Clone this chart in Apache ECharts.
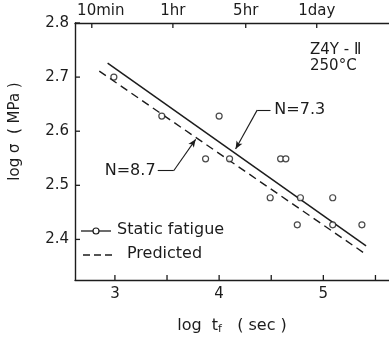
<!DOCTYPE html>
<html><head><meta charset="utf-8">
<script src="https://cdn.jsdelivr.net/npm/echarts@6/dist/echarts.min.js"></script>
<style>html,body{margin:0;padding:0;background:#fff}#c{width:389px;height:340px}</style>
</head><body><div id="c"></div>
<script>
// ---- data ----
var staticX = [2.99, 3.45, 4.00, 3.87, 4.10, 4.59, 4.64, 4.49, 4.78, 5.09, 4.75, 5.09, 5.37];
var staticY = [2.700, 2.628, 2.628, 2.549, 2.549, 2.549, 2.549, 2.477, 2.477, 2.477, 2.427, 2.427, 2.427];
var fitX = [2.93, 5.41];          // N = 7.3 (solid)
var fitY = [2.726, 2.388];
var predX = [2.85, 5.42];         // N = 8.7 (dashed)
var predY = [2.711, 2.371];
var xTicks = [3, 4, 5];
var xMinorTicks = [3, 3.5, 4, 4.5, 5, 5.5];
var yTicks = [2.4, 2.5, 2.6, 2.7, 2.8];
var timeLabels = ['10min', '1hr', '5hr', '1day'];
var timeSeconds = [600, 3600, 18000, 86400];
var timeTicks = timeSeconds.map(function (s) { return Math.log10(s); });

var X_MIN = 2.617, X_MAX = 5.63, Y_MIN = 2.325, Y_MAX = 2.8;
var FONT = 'DejaVu Sans';
var INK = '#1c1c1c';
var chart = echarts.init(document.getElementById('c'), null, {renderer: 'canvas'});
function pairs(xs, ys) { return xs.map(function (x, i) { return [x, ys[i]]; }); }

var baseGraphic = [
  {id: 'z4y', type: 'text', left: 310, top: 43, style: {text: 'Z4Y - Ⅱ', font: '15px "DejaVu Sans"', fill: INK}},
  {id: 'temp', type: 'text', left: 310, top: 59, style: {text: '250°C', font: '15px "DejaVu Sans"', fill: INK}},
  // legend
  {id: 'lg1', type: 'line', shape: {x1: 81, y1: 231, x2: 111, y2: 231}, style: {stroke: INK, lineWidth: 1.3}},
  {id: 'lg1c', type: 'circle', shape: {cx: 96, cy: 231, r: 3}, style: {fill: '#fff', stroke: INK, lineWidth: 1.2}, z: 10},
  {id: 'lg1t', type: 'text', left: 117, top: 222, style: {text: 'Static fatigue', font: '16px "DejaVu Sans"', fill: INK}},
  {id: 'lg2', type: 'line', shape: {x1: 83, y1: 255, x2: 113, y2: 255}, style: {stroke: INK, lineWidth: 1.3, lineDash: [7, 4]}},
  {id: 'lg2t', type: 'text', left: 127, top: 246, style: {text: 'Predicted', font: '16px "DejaVu Sans"', fill: INK}}
];

var option = {
  animation: false,
  backgroundColor: '#fff',
  textStyle: {fontFamily: FONT, color: INK},
  grid: {left: 74, top: 23, right: 0, bottom: 58},
  xAxis: [{
    type: 'value', min: X_MIN, max: X_MAX, position: 'bottom',
    axisLine: {show: true, lineStyle: {color: INK, width: 1.4}},
    axisTick: {show: false},
    axisLabel: {customValues: xTicks, fontSize: 15, color: INK, margin: 7, fontFamily: FONT},
    splitLine: {show: false},
    name: 'log  t{sub|f}   ( sec )', nameLocation: 'middle', nameGap: 36,
    nameTextStyle: {fontSize: 16, color: INK, fontFamily: FONT,
      rich: {sub: {fontSize: 11, padding: [8, 0, 0, 0], fontFamily: FONT, color: INK}}}
  }, {
    type: 'value', min: X_MIN, max: X_MAX, position: 'top',
    axisLine: {show: true, onZero: false, lineStyle: {color: INK, width: 1.4}},
    axisTick: {show: false},
    axisLabel: {customValues: timeTicks, fontSize: 15, color: INK, margin: 4, fontFamily: FONT,
      formatter: function (v) {
        for (var i = 0; i < timeTicks.length; i++) {
          if (Math.abs(v - timeTicks[i]) < 1e-6) return i === 0 ? '{a|' + timeLabels[i] + '}' : timeLabels[i];
        }
        return '';
      },
      rich: {a: {fontSize: 15, color: INK, fontFamily: FONT, padding: [0, 0, 0, 18]}}},
    splitLine: {show: false}
  }],
  yAxis: {
    type: 'value', min: Y_MIN, max: Y_MAX,
    axisLine: {show: true, lineStyle: {color: INK, width: 1.4}},
    axisTick: {show: false},
    axisLabel: {customValues: yTicks, fontSize: 15, color: INK, margin: 6, fontFamily: FONT,
      formatter: function (v) { return v.toFixed(1); }},
    splitLine: {show: false},
    name: 'log σ  ( MPa )', nameLocation: 'middle', nameGap: 52,
    nameTextStyle: {fontSize: 15, color: INK, fontFamily: FONT, padding: [0, 0, 0, 40]}
  },
  series: [{
    name: 'N=7.3', type: 'line', data: pairs(fitX, fitY), showSymbol: false, symbol: 'none',
    lineStyle: {color: INK, width: 1.5, type: 'solid'}, z: 2,
    markLine: {
      silent: true, symbol: ['none', 'none'], label: {show: false},
      lineStyle: {color: INK, width: 1.1, type: 'solid'},
      data: [
        [{coord: [4.365, 2.639]}, {coord: [4.493, 2.639]}],
        [{coord: [4.365, 2.639], symbol: 'none'}, {coord: [4.158, 2.567], symbol: 'arrow', symbolSize: [5, 8]}]
      ]
    },
    markPoint: {
      symbol: 'circle', symbolSize: 0,
      data: [{coord: [4.53, 2.639], label: {show: true, position: 'right', distance: 0, formatter: 'N=7.3', fontSize: 16, color: INK, fontFamily: FONT}}]
    }
  }, {
    name: 'Predicted', type: 'line', data: pairs(predX, predY), showSymbol: false, symbol: 'none',
    lineStyle: {color: INK, width: 1.4, type: [8, 5]}, z: 2,
    markLine: {
      silent: true, symbol: ['none', 'none'], label: {show: false},
      lineStyle: {color: INK, width: 1.1, type: 'solid'},
      data: [
        [{coord: [3.411, 2.527]}, {coord: [3.564, 2.527]}],
        [{coord: [3.564, 2.527], symbol: 'none'}, {coord: [3.775, 2.585], symbol: 'arrow', symbolSize: [5, 8]}]
      ]
    },
    markPoint: {
      symbol: 'circle', symbolSize: 0,
      data: [{coord: [3.39, 2.527], label: {show: true, position: 'left', distance: 0, formatter: 'N=8.7', fontSize: 16, color: INK, fontFamily: FONT}}]
    }
  }, {
    name: 'Static fatigue', type: 'scatter', data: pairs(staticX, staticY),
    symbol: 'circle', symbolSize: 6,
    itemStyle: {color: '#fff', borderColor: INK, borderWidth: 1.2}, z: 5
  }],
  graphic: baseGraphic
};
chart.setOption(option);

// tick marks drawn inward, positioned through the chart's own axis scales
var tickLen = 5, tickGraphic = [];
var yBottom = chart.convertToPixel({yAxisIndex: 0}, Y_MIN);
var yTop = chart.convertToPixel({yAxisIndex: 0}, Y_MAX);
var xLeft = chart.convertToPixel({xAxisIndex: 0}, X_MIN);
xMinorTicks.forEach(function (v, i) {
  var px = chart.convertToPixel({xAxisIndex: 0}, v);
  tickGraphic.push({id: 'bt' + i, type: 'line', shape: {x1: px, y1: yBottom, x2: px, y2: yBottom - tickLen}, style: {stroke: INK, lineWidth: 1.3}});
});
timeTicks.forEach(function (v, i) {
  var px = chart.convertToPixel({xAxisIndex: 1}, v);
  tickGraphic.push({id: 'tt' + i, type: 'line', shape: {x1: px, y1: yTop, x2: px, y2: yTop + tickLen}, style: {stroke: INK, lineWidth: 1.3}});
});
yTicks.forEach(function (v, i) {
  var py = chart.convertToPixel({yAxisIndex: 0}, v);
  tickGraphic.push({id: 'yt' + i, type: 'line', shape: {x1: xLeft, y1: py, x2: xLeft + tickLen, y2: py}, style: {stroke: INK, lineWidth: 1.3}});
});
chart.setOption({graphic: baseGraphic.concat(tickGraphic)});
</script></body></html>
